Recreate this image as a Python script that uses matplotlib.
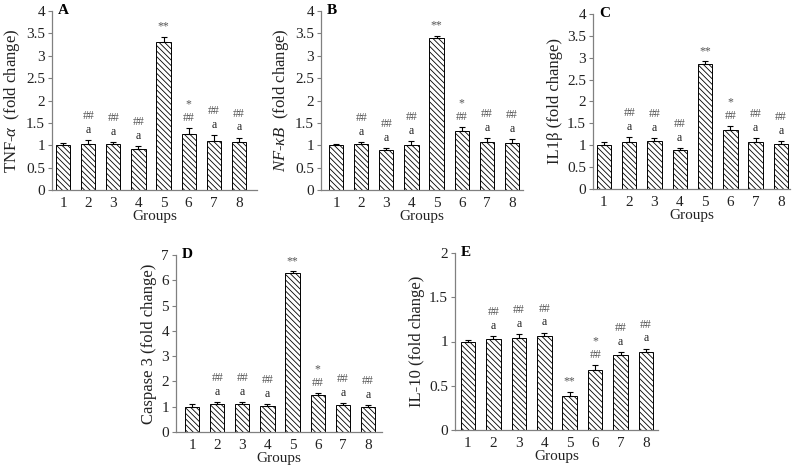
import matplotlib
matplotlib.use("Agg")
import matplotlib.pyplot as plt
import numpy as np

plt.rcParams['font.family'] = ['Liberation Serif', 'DejaVu Serif']
plt.rcParams['mathtext.fontset'] = 'custom'
plt.rcParams['mathtext.rm'] = 'Liberation Serif'
plt.rcParams['mathtext.it'] = 'Liberation Serif:italic'
plt.rcParams['hatch.linewidth'] = 0.6

groups = [1, 2, 3, 4, 5, 6, 7, 8]

# fold change values and upper SEM
tnf_vals = [1.00, 1.02, 1.03, 0.91, 3.30, 1.25, 1.10, 1.07]
tnf_err = [0.06, 0.09, 0.04, 0.08, 0.12, 0.13, 0.12, 0.10]
nfkb_vals = [1.00, 1.02, 0.90, 1.01, 3.40, 1.32, 1.08, 1.04]
nfkb_err = [0.03, 0.06, 0.04, 0.08, 0.05, 0.09, 0.08, 0.09]
il1b_vals = [1.00, 1.08, 1.10, 0.88, 2.85, 1.35, 1.08, 1.03]
il1b_err = [0.07, 0.10, 0.07, 0.06, 0.07, 0.09, 0.09, 0.06]
casp_vals = [1.00, 1.10, 1.12, 1.02, 6.30, 1.48, 1.07, 1.00]
casp_err = [0.10, 0.08, 0.05, 0.08, 0.06, 0.06, 0.08, 0.06]
il10_vals = [1.00, 1.03, 1.04, 1.06, 0.38, 0.68, 0.85, 0.88]
il10_err = [0.02, 0.03, 0.04, 0.04, 0.05, 0.05, 0.03, 0.04]

# significance marks, lower line and upper line
lower_marks = ['', 'a', 'a', 'a', '**', '##', 'a', 'a']
upper_marks = ['', '##', '##', '##', '', '*', '##', '##']

fig = plt.figure(figsize=(7.94, 4.72), dpi=100)
W, H = 794, 472


def panel(box, xlim, vals, err, ymax, ystep, letter, ylabel):
    l, t, r, b = box
    ax = fig.add_axes([l / W, 1 - b / H, (r - l) / W, (b - t) / H])
    ax.bar(groups, vals, width=0.57, color='white', edgecolor='black',
           linewidth=0.7, hatch='\\' * 6)
    ax.errorbar(groups, vals, yerr=[np.zeros(len(err)), err], fmt='none',
                ecolor='black', elinewidth=0.8, capsize=2, capthick=0.8)
    tops = np.array(vals) + np.array(err)
    for g, top, lo, up in zip(groups, tops, lower_marks, upper_marks):
        if lo:
            col = '#222222' if lo == 'a' else '#555555'
            ax.annotate(lo, (g, top), xytext=(0, 3), textcoords='offset points',
                        ha='center', va='bottom', fontsize=8.5, color=col)
        if up:
            ax.annotate(up, (g, top), xytext=(0, 13), textcoords='offset points',
                        ha='center', va='bottom', fontsize=8.5, color='#555555')
    ax.set_xlim(*xlim)
    ax.set_ylim(0, ymax)
    ticks = np.arange(0, ymax + ystep / 2, ystep)
    ax.set_yticks(ticks)
    ax.set_yticklabels(['%g' % v for v in ticks])
    ax.set_xticks(groups)
    for s in ['top', 'right']:
        ax.spines[s].set_visible(False)
    for s in ['left', 'bottom']:
        ax.spines[s].set_color('#808080')
        ax.spines[s].set_linewidth(0.9)
    ax.tick_params(axis='y', length=3, color='#808080', labelsize=11, pad=2,
                   labelcolor='#222222')
    ax.tick_params(axis='x', length=0, labelsize=11, pad=5, labelcolor='#222222')
    ax.set_xlabel('Groups', fontsize=11, labelpad=0, color='#222222')
    ax.set_ylabel(ylabel, fontsize=12, labelpad=3, color='#222222')
    ax.text(0.03, 1.0, letter, transform=ax.transAxes, fontsize=11,
            fontweight='bold', ha='left', va='center')
    return ax


panel((52, 11, 257, 190), (0.56, 8.72), tnf_vals, tnf_err, 4, 0.5, 'A',
      r'TNF-$\alpha$  (fold change)')
panel((321, 11, 523, 190), (0.40, 8.44), nfkb_vals, nfkb_err, 4, 0.5, 'B',
      r'$NF$-$\kappa B$  (fold change)')
panel((593, 14, 790, 189), (0.57, 8.36), il1b_vals, il1b_err, 4, 0.5, 'C',
      'IL1β (fold change)')
panel((176, 255, 382, 432), (0.36, 8.56), casp_vals, casp_err, 7, 1, 'D',
      'Caspase 3 (fold change)')
panel((455, 253, 658, 430), (0.49, 8.47), il10_vals, il10_err, 2, 0.5, 'E',
      'IL-10 (fold change)')

fig.savefig('out.png', dpi=100)
